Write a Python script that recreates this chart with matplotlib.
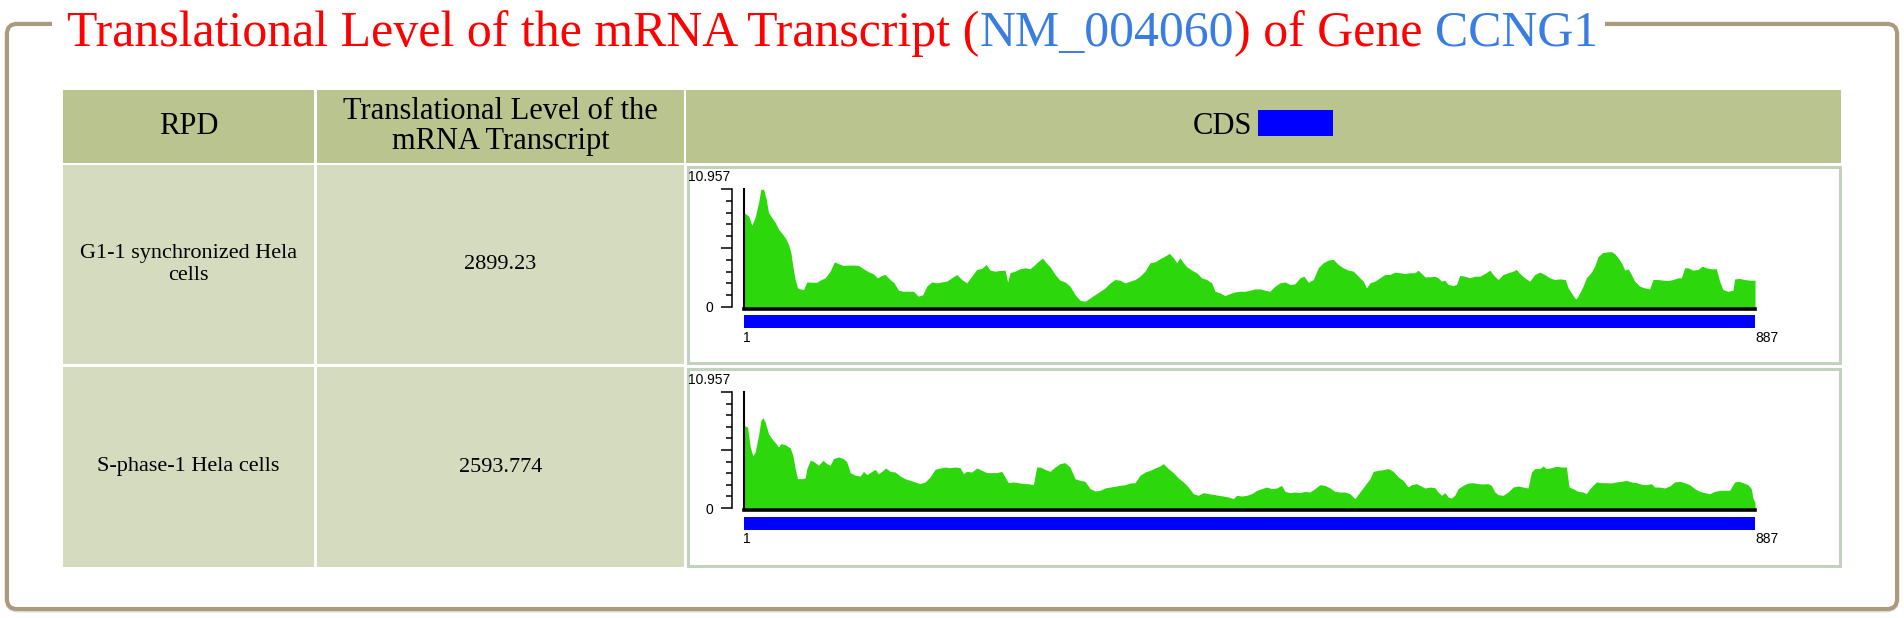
import numpy as np
import matplotlib
matplotlib.use("Agg")
import matplotlib.pyplot as plt
from matplotlib.patches import Rectangle, FancyBboxPatch
from matplotlib.ticker import FixedLocator

# ---- data (position in nt, translational level) ----
YMAX = 10.957
CDS_LEN = 887

g1_pos = [1, 5.4, 8.3, 11.2, 14.2, 16.2, 18.5, 20.9, 22.9, 25.8, 28.8, 31.7, 34.6, 37.5,
          40.4, 42.5, 44.2, 46.3, 48.3, 50.6, 53.6, 56.5, 60.9, 65.2, 68.1, 72.5, 76.9,
          80.7, 84.2, 88.6, 93.0, 97.3, 101.7, 106.1, 110.5, 114.8, 118.3, 122.1, 125.0,
          129.4, 132.9, 136.7, 141.1, 145.5, 149.8, 154.2, 158.0, 161.5, 165.9, 170.3,
          174.7, 179.0, 183.4, 187.8, 192.2, 196.5, 200.9, 205.3, 209.7, 213.5, 217.0,
          221.3, 225.7, 230.1, 232.4, 234.5, 238.8, 243.2, 247.6, 252.0, 256.4, 260.2,
          263.1, 266.0, 269.5, 273.9, 278.2, 282.6, 287.0, 291.4, 295.8, 300.2, 304.6,
          308.9, 313.3, 317.7, 322.1, 326.4, 330.8, 335.2, 339.6, 344.0, 348.3, 352.7,
          357.1, 361.5, 365.8, 370.2, 374.0, 377.5, 380.4, 383.2, 386.3, 389.2, 393.6,
          397.9, 402.3, 406.7, 411.1, 414.0, 418.4, 422.7, 427.1, 431.5, 435.9, 440.2,
          444.6, 449.0, 453.4, 457.7, 462.1, 466.5, 470.9, 475.3, 479.6, 484.0, 488.4,
          491.9, 495.7, 500.1, 504.4, 508.8, 513.2, 517.6, 521.9, 526.3, 530.7, 535.1,
          539.5, 543.8, 546.7, 549.7, 554.0, 558.4, 562.8, 567.2, 571.6, 575.9, 580.3,
          584.7, 589.1, 592.0, 597.8, 602.2, 606.5, 609.4, 612.4, 615.3, 618.2, 622.6,
          625.5, 628.4, 632.8, 637.2, 641.5, 645.9, 650.3, 654.7, 658.2, 662.0, 666.4,
          670.7, 675.1, 678.0, 681.0, 685.3, 689.7, 694.1, 698.4, 702.8, 707.2, 711.6,
          716.0, 720.9, 723.3, 726.2, 729.1, 730.5, 733.5, 736.4, 739.3, 743.7, 746.6,
          749.5, 753.3, 756.8, 761.2, 764.1, 767.0, 770.0, 772.9, 775.8, 778.7, 781.6,
          786.0, 790.4, 794.7, 797.7, 802.0, 806.4, 810.8, 815.2, 819.5, 822.5, 825.4,
          828.3, 832.7, 837.1, 840.8, 844.3, 848.7, 853.1, 856.0, 858.9, 863.3, 867.7,
          869.2, 873.5, 877.9, 882.3, 887]
g1_val = [8.78, 8.47, 7.60, 8.31, 9.71, 10.90, 10.96, 10.02, 8.78, 8.31, 7.84, 7.22, 6.85, 6.44,
          5.82, 5.04, 3.80, 2.55, 1.77, 1.68, 1.62, 2.33, 2.30, 2.30, 2.49, 2.71, 3.33,
          4.20, 4.02, 3.86, 3.89, 3.89, 3.86, 3.55, 3.27, 3.08, 2.71, 2.93, 3.02,
          2.55, 2.24, 1.56, 1.46, 1.46, 1.46, 1.00, 1.15, 1.93, 2.33, 2.24,
          2.33, 2.40, 2.71, 3.02, 2.55, 2.24, 2.86, 3.49, 3.58, 3.95, 3.42,
          3.33, 3.39, 3.42, 2.30, 3.18, 3.33, 3.55, 3.64, 3.55, 3.95, 4.33,
          4.54, 4.11, 3.74, 3.02, 2.49, 2.33, 1.93, 1.15, 0.62, 0.53, 0.84,
          1.15, 1.46, 1.77, 2.24, 2.55, 2.49, 2.24, 2.40, 2.55, 2.86, 3.33,
          4.11, 4.20, 4.48, 4.73, 4.98, 4.58, 4.11, 4.58, 4.11, 3.74, 3.42,
          3.18, 2.71, 2.55, 2.24, 1.46, 1.31, 1.06, 1.25, 1.40, 1.46, 1.46,
          1.56, 1.68, 1.68, 1.56, 1.46, 1.93, 2.24, 2.33, 2.09, 2.15, 2.71,
          2.86, 2.30, 2.55, 3.64, 4.11, 4.36, 4.42, 3.95, 3.64, 3.42, 3.33,
          2.86, 2.40, 1.77, 2.24, 2.40, 2.71, 3.02, 3.02, 3.24, 3.18, 3.11,
          3.18, 3.18, 3.42, 2.80, 2.80, 2.86, 2.71, 2.40, 2.49, 2.09, 1.99,
          2.09, 2.93, 2.86, 2.71, 2.86, 2.86, 3.11, 3.42, 2.93, 2.55, 3.02,
          3.18, 3.33, 3.49, 3.11, 2.71, 2.40, 3.02, 3.24, 3.02, 2.71, 2.55,
          2.61, 2.55, 1.77, 1.31, 0.84, 0.75, 1.31, 1.93, 2.71, 3.24, 3.80,
          4.67, 5.04, 5.11, 5.14, 4.95, 4.58, 4.11, 3.42, 3.55, 3.02, 2.40,
          1.93, 1.77, 1.68, 2.55, 2.55, 2.49, 2.46, 2.55, 2.71, 2.71, 3.64,
          3.64, 3.42, 3.49, 3.80, 3.64, 3.55, 3.55, 2.40, 1.62, 1.46, 1.56,
          2.61, 2.65, 2.55, 2.49, 2.49]

s_pos = [1, 4.5, 6.9, 9.2, 11.2, 14.2, 16.2, 18.0, 20.0, 22.9, 25.8, 28.8, 31.7, 33.7, 37.5,
         41.9, 44.2, 46.3, 48.3, 52.1, 55.0, 56.5, 59.4, 62.3, 66.7, 70.5, 74.0, 76.9,
         79.8, 84.2, 88.6, 91.5, 94.4, 98.8, 103.2, 106.1, 109.0, 113.4, 116.3, 119.2,
         122.1, 125.6, 129.4, 133.8, 138.2, 142.5, 146.9, 151.3, 155.7, 160.1, 164.4,
         168.8, 173.2, 177.6, 181.9, 186.3, 190.7, 193.6, 196.5, 200.9, 205.3, 209.7,
         214.0, 218.4, 222.8, 227.2, 230.1, 233.0, 237.4, 241.8, 246.1, 250.5, 254.9,
         257.8, 260.7, 265.1, 269.5, 273.9, 278.2, 282.6, 287.0, 291.4, 295.8, 300.1,
         304.6, 308.9, 313.3, 317.7, 322.1, 326.4, 330.8, 335.2, 339.6, 344.0, 348.3,
         352.7, 357.1, 361.5, 365.8, 368.7, 373.1, 377.5, 381.9, 386.3, 390.6, 395.0,
         399.4, 403.8, 408.1, 412.5, 416.9, 421.3, 425.6, 430.0, 433.0, 437.3, 441.7,
         446.1, 450.5, 454.8, 459.2, 463.6, 468.0, 472.3, 475.3, 479.6, 484.0, 488.4,
         492.8, 497.1, 501.5, 505.9, 510.3, 514.7, 519.0, 523.4, 527.8, 532.2, 536.5,
         540.9, 545.3, 549.7, 552.6, 557.0, 561.3, 565.7, 570.1, 574.5, 578.8, 583.2,
         586.1, 590.5, 597.8, 602.2, 606.5, 609.4, 612.4, 615.3, 618.2, 621.1, 624.0,
         627.0, 631.3, 635.7, 640.1, 644.5, 648.8, 653.2, 656.1, 659.1, 662.0, 666.4,
         670.7, 675.1, 679.5, 683.9, 688.2, 691.2, 694.1, 698.4, 701.4, 704.3, 708.7,
         713.0, 717.4, 721.8, 724.1, 727.6, 732.0, 736.4, 739.3, 742.2, 745.1, 748.1,
         752.4, 756.8, 761.2, 765.6, 769.9, 774.3, 778.7, 783.1, 787.5, 791.8, 796.2,
         799.1, 803.5, 807.9, 812.3, 816.6, 821.0, 825.4, 829.8, 834.1, 838.5, 842.9,
         847.3, 851.6, 856.0, 860.4, 864.8, 869.2, 872.9, 876.4, 880.8, 883.7, 885.2, 887]
s_val = [7.81, 7.65, 5.76, 4.91, 5.29, 6.86, 8.28, 8.53, 8.12, 7.02, 6.55, 6.17, 5.76, 6.08, 5.98,
         5.67, 4.98, 3.72, 2.77, 2.77, 2.83, 3.72, 4.50, 4.41, 4.03, 4.50, 4.19, 4.03,
         4.66, 4.82, 4.66, 4.35, 3.34, 3.09, 3.02, 3.46, 3.15, 3.46, 3.65, 3.24,
         3.46, 3.78, 3.46, 3.40, 3.02, 2.77, 2.61, 2.46, 2.30, 2.46, 2.93,
         3.65, 3.78, 3.87, 3.81, 3.87, 3.81, 3.24, 3.46, 3.40, 3.78, 3.56,
         3.34, 3.34, 3.34, 3.46, 2.93, 2.39, 2.46, 2.39, 2.30, 2.30, 2.20,
         3.87, 3.87, 3.65, 3.46, 3.87, 4.19, 4.28, 3.87, 2.77, 2.61, 2.52,
         1.83, 1.61, 1.67, 1.89, 1.98, 2.05, 2.14, 2.20, 2.36, 2.39, 3.09,
         3.40, 3.56, 3.78, 3.97, 4.19, 3.72, 3.34, 2.83, 2.46, 1.98, 1.35,
         1.20, 1.45, 1.35, 1.29, 1.20, 1.13, 1.04, 0.88, 1.20, 1.13, 1.20,
         1.35, 1.67, 1.83, 1.98, 1.83, 1.89, 2.14, 1.57, 1.45, 1.51, 1.45,
         1.57, 1.51, 1.83, 2.20, 2.14, 1.89, 1.57, 1.51, 1.51, 1.35, 0.88,
         1.51, 2.14, 2.77, 3.46, 3.56, 3.62, 3.72, 3.46, 2.93, 2.61, 1.98,
         2.20, 2.30, 1.89, 1.98, 1.92, 1.51, 1.20, 1.45, 1.04, 0.94, 1.20,
         1.83, 2.14, 2.36, 2.39, 2.30, 2.27, 2.30, 2.14, 1.51, 1.26, 1.20,
         1.51, 1.98, 2.08, 1.98, 1.89, 3.40, 3.72, 3.72, 3.97, 3.72, 3.81,
         3.94, 3.87, 3.87, 1.98, 1.83, 1.57, 1.51, 1.35, 1.83, 2.14, 2.46,
         2.39, 2.39, 2.36, 2.46, 2.52, 2.61, 2.46, 2.39, 2.24, 2.20, 2.30,
         1.98, 1.98, 1.89, 2.08, 2.46, 2.52, 2.39, 2.20, 1.83, 1.57, 1.45,
         1.35, 1.57, 1.67, 1.67, 1.67, 2.46, 2.52, 2.39, 2.20, 1.83, 0.94, 0.50]

samples = ["G1-1 synchronized Hela\ncells", "S-phase-1 Hela cells"]
levels = ["2899.23", "2593.774"]
headers = ["RPD", "Translational Level of the\nmRNA Transcript", "CDS"]
profiles = [(g1_pos, g1_val), (s_pos, s_val)]

RED = "#ff0000"
BLUE = "#3a7de0"
GREEN = "#2cd70b"
HEAD = "#b9c48e"
BODY = "#d5dbbe"
SERIF = "Liberation Serif"
SANS = "Liberation Sans"
LAB = 10

W, H = 1904, 618
fig = plt.figure(figsize=(W / 100, H / 100), dpi=100)
bg = fig.add_axes([0, 0, 1, 1])
bg.set_xlim(0, W)
bg.set_ylim(H, 0)
bg.axis("off")

# outer frame
bg.add_patch(FancyBboxPatch((8, 25), 1888, 584, boxstyle="round,pad=0,rounding_size=10",
                            fc="none", ec="#d8d8d8", lw=5, zorder=1))
bg.add_patch(FancyBboxPatch((7, 24), 1890, 585, boxstyle="round,pad=0,rounding_size=10",
                            fc="white", ec="#ab9b7c", lw=2.9, zorder=2))

# title
pieces = [("Translational Level of the mRNA Transcript (", RED), ("NM_004060", BLUE),
          (") of Gene", RED), ("CCNG1", BLUE)]
r = fig.canvas.get_renderer()


def text_w(s, size):
    t = bg.text(0, 0, s, fontsize=size, family=SERIF)
    w = t.get_window_extent(r).width
    t.remove()
    return w


size = 40
total = sum(text_w(s, size) for s, _ in pieces) + (text_w("a a", size) - text_w("aa", size))
size = size * 1529 / total
space = text_w("a a", size) - text_w("aa", size)
x = 67
bg.add_patch(Rectangle((52, 6), 1553, 36, fc="white", ec="none", zorder=3))
for i, (s, c) in enumerate(pieces):
    if i == 3:
        x += space
    bg.text(x, 46, s, color=c, fontsize=size, family=SERIF, va="baseline", ha="left", zorder=4)
    x += text_w(s, size)

# table
cols = [(63, 314), (317, 684), (686, 1841)]
rows = [(90, 163), (165, 364), (367, 567)]
for j, (c0, c1) in enumerate(cols):
    bg.add_patch(Rectangle((c0, rows[0][0]), c1 - c0, rows[0][1] - rows[0][0], fc=HEAD, ec="none", zorder=3))
for i in range(2):
    r0, r1 = rows[i + 1]
    for j, (c0, c1) in enumerate(cols):
        if j < 2:
            bg.add_patch(Rectangle((c0, r0), c1 - c0, r1 - r0, fc=BODY, ec="none", zorder=3))
        else:
            bg.add_patch(Rectangle((c0 + 1.5, r0 + 1.5), c1 - c0 - 3, r1 - r0 - 3, fc="white",
                                   ec="#c3d1bf", lw=2.2, zorder=3))

hy = (rows[0][0] + rows[0][1]) / 2
bg.text((cols[0][0] + cols[0][1]) / 2, hy, headers[0], ha="center", va="center",
        fontsize=22, family=SERIF, zorder=5)
bg.text((cols[1][0] + cols[1][1]) / 2, hy, headers[1], ha="center", va="center",
        fontsize=22, family=SERIF, linespacing=1.05, zorder=5)
bg.text(1252, hy, headers[2], ha="right", va="center", fontsize=22, family=SERIF, zorder=5)
bg.add_patch(Rectangle((1258, 110), 75, 26, fc="#0000ff", ec="none", zorder=5))

for i in range(2):
    r0, r1 = rows[i + 1]
    cy = (r0 + r1) / 2
    bg.text((cols[0][0] + cols[0][1]) / 2, cy, samples[i], ha="center", va="center",
            fontsize=16, family=SERIF, linespacing=1.15, zorder=5)
    bg.text((cols[1][0] + cols[1][1]) / 2, cy, levels[i], ha="center", va="center",
            fontsize=16, family=SERIF, zorder=5)

# coverage profiles
chart_y = [(307, 189), (508, 392)]
x0, x1 = 743.5, 1755
for (zero_y, top_y), (pos, val) in zip(chart_y, profiles):
    hpx = zero_y - top_y
    ax = fig.add_axes([x0 / W, 1 - zero_y / H, (x1 - x0) / W, hpx / H])
    ax.fill_between(pos, val, color=GREEN, lw=0)
    ax.set_xlim(1, CDS_LEN)
    ax.set_ylim(0, YMAX)
    ax.patch.set_alpha(0)
    for sp in ["top", "right"]:
        ax.spines[sp].set_visible(False)
    ax.spines["left"].set_linewidth(1.5)
    ax.spines["bottom"].set_linewidth(2.6)
    ax.spines["bottom"].set_position(("outward", 1.3))
    ax.tick_params(axis="y", left=False, labelleft=False)
    ax.set_xticks([1, CDS_LEN], labels=["1", str(CDS_LEN)])
    ax.tick_params(axis="x", length=0, pad=16, labelsize=LAB)
    for lab in ax.get_xticklabels():
        lab.set_ha("left")
        lab.set_family(SANS)

    sec = ax.secondary_yaxis(-11.5 / (x1 - x0))
    sec.spines["left"].set_linewidth(1.1)
    sec.set_yticks([0, YMAX / 2, YMAX], labels=["0", "", ""])
    sec.yaxis.set_minor_locator(FixedLocator([YMAX * k / 10 for k in range(1, 10) if k != 5]))
    sec.tick_params(which="major", length=7.7, width=1.1, pad=6, labelsize=LAB)
    sec.tick_params(which="minor", length=4, width=1.1)
    for lab in sec.get_yticklabels():
        lab.set_family(SANS)

    ax.annotate(f"{YMAX:g}", xy=(0, YMAX), xycoords=("axes fraction", "data"),
                xytext=(-40, 8.5), textcoords="offset points", ha="left", va="center",
                fontsize=LAB, family=SANS, annotation_clip=False)

    bar_top = -(9 if zero_y > 400 else 8) / hpx
    ax.add_patch(Rectangle((1, bar_top - 13 / hpx), CDS_LEN - 1, 13 / hpx,
                           transform=ax.get_xaxis_transform(), fc="#0000ff", ec="none",
                           clip_on=False))

fig.savefig("out.png", dpi=100)
